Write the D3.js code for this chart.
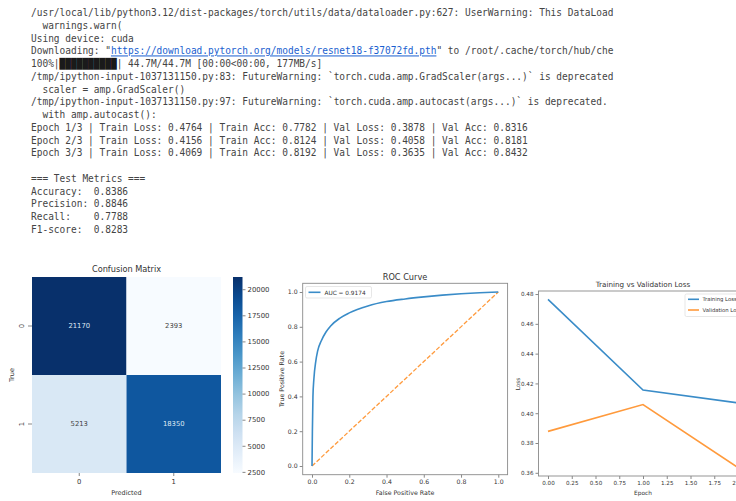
<!DOCTYPE html>
<html>
<head>
<meta charset="utf-8">
<script src="https://cdn.jsdelivr.net/npm/d3@7"></script>
<style>
  html, body { margin: 0; padding: 0; background: #fff; }
  svg { display: block; }
  .mono { font-family: "DejaVu Sans Mono", "Liberation Mono", monospace; font-size: 10px; fill: #444; }
  .plot text { font-family: "DejaVu Sans", sans-serif; fill: #333; }
</style>
</head>
<body>
<svg id="out" width="736" height="501"></svg>
<script>
// ---- training log values ----
const trainLoss = [0.4764, 0.4156, 0.4069];
const trainAcc  = [0.7782, 0.8124, 0.8192];
const valLoss   = [0.3878, 0.4058, 0.3635];
const valAcc    = [0.8316, 0.8181, 0.8432];
const epochs    = [0, 1, 2];

// ---- test metrics ----
const metricNames  = ["Accuracy:  ", "Precision: ", "Recall:    ", "F1-score:  "];
const metricValues = [0.8386, 0.8846, 0.7788, 0.8283];

// ---- confusion matrix (rows: true, cols: predicted) ----
const classLabels = ["0", "1"];
const confusion = [[21170, 2393], [5213, 18350]];
const colorbarTicks = [2500, 5000, 7500, 10000, 12500, 15000, 17500, 20000];

// ---- ROC curve ----
const rocFpr = [0, 0.002, 0.005, 0.01, 0.02, 0.03, 0.05, 0.075, 0.1, 0.15, 0.2, 0.3, 0.4, 0.5, 0.6, 0.7, 0.8, 0.9, 1.0];
const rocTpr = [0, 0.2, 0.4, 0.5, 0.6, 0.66, 0.72, 0.77, 0.805, 0.85, 0.88, 0.92, 0.945, 0.96, 0.972, 0.982, 0.99, 0.996, 1.0];
const aucValue = 0.9174;
const rocTicks = [0, 0.2, 0.4, 0.6, 0.8, 1.0];

// ---- loss plot ticks ----
const epochTicks = [0, 0.25, 0.5, 0.75, 1.0, 1.25, 1.5, 1.75, 2.0];
const lossTicks = [0.36, 0.38, 0.40, 0.42, 0.44, 0.46, 0.48];

const svg = d3.select("#out");
const f4 = d3.format(".4f");

// ================= console output (output cell is 102 columns wide) =================
const bar = "\u2588".repeat(10);
const consoleLines = [
  [{t: "/usr/local/lib/python3.12/dist-packages/torch/utils/data/dataloader.py:627: UserWarning: This DataLoad"}],
  [{t: "  warnings.warn("}],
  [{t: "Using device: cuda"}],
  [{t: "Downloading: \""}, {t: "https://download.pytorch.org/models/resnet18-f37072fd.pth", link: true}, {t: "\" to /root/.cache/torch/hub/che"}],
  [{t: "100%|"}, {t: bar, dark: true}, {t: "| 44.7M/44.7M [00:00<00:00, 177MB/s]"}],
  [{t: "/tmp/ipython-input-1037131150.py:83: FutureWarning: `torch.cuda.amp.GradScaler(args...)` is deprecated"}],
  [{t: "  scaler = amp.GradScaler()"}],
  [{t: "/tmp/ipython-input-1037131150.py:97: FutureWarning: `torch.cuda.amp.autocast(args...)` is deprecated."}],
  [{t: "  with amp.autocast():"}]
];
epochs.forEach((e, i) => {
  consoleLines.push([{t: `Epoch ${i + 1}/3 | Train Loss: ${f4(trainLoss[i])} | Train Acc: ${f4(trainAcc[i])} | Val Loss: ${f4(valLoss[i])} | Val Acc: ${f4(valAcc[i])}`}]);
});
consoleLines.push([{t: ""}]);
consoleLines.push([{t: "=== Test Metrics ==="}]);
metricNames.forEach((n, i) => consoleLines.push([{t: n + f4(metricValues[i])}]));

const charW = 5.71, lineH = 12.75, firstBase = 16.2, textX = 31;
const log = svg.append("g");
consoleLines.forEach((parts, i) => {
  const n = parts.reduce((s, p) => s + p.t.length, 0);
  if (!n) return;
  const txt = log.append("text").attr("class", "mono")
    .attr("x", textX).attr("y", firstBase + i * lineH)
    .attr("textLength", n * charW).attr("lengthAdjust", "spacingAndGlyphs")
    .attr("xml:space", "preserve");
  parts.forEach(p => {
    const ts = txt.append("tspan").text(p.t);
    if (p.link) ts.style("fill", "#1a5fd0").style("text-decoration", "underline");
    if (p.dark) ts.style("fill", "#1a1a1a");
  });
});

// ================= confusion matrix =================
const cm = svg.append("g").attr("class", "plot");
const cmX = d3.scaleBand().domain(classLabels).range([32, 221]);
const cmY = d3.scaleBand().domain(classLabels).range([277, 473]);
const flat = confusion.flat();
const cmMin = d3.min(flat), cmMax = d3.max(flat);
const cmColor = d3.scaleSequential(d3.interpolateBlues).domain([cmMin, cmMax]);

const cells = [];
confusion.forEach((row, r) => row.forEach((v, c) => cells.push({r, c, v})));
cm.selectAll("rect.cell").data(cells).join("rect").attr("class", "cell")
  .attr("x", d => cmX(classLabels[d.c])).attr("y", d => cmY(classLabels[d.r]))
  .attr("width", cmX.bandwidth()).attr("height", cmY.bandwidth())
  .attr("fill", d => cmColor(d.v));
cm.selectAll("text.annot").data(cells).join("text").attr("class", "annot")
  .attr("x", d => cmX(classLabels[d.c]) + cmX.bandwidth() / 2)
  .attr("y", d => cmY(classLabels[d.r]) + cmY.bandwidth() / 2)
  .attr("text-anchor", "middle").attr("dominant-baseline", "central")
  .style("font-size", "6.8px")
  .style("fill", d => (d.v - cmMin) / (cmMax - cmMin) > 0.5 ? "#dfe8f3" : "#444")
  .text(d => d.v);

// heatmap ticks
const cmXAxis = cm.append("g").attr("transform", "translate(0,473)");
classLabels.forEach(l => {
  const x = cmX(l) + cmX.bandwidth() / 2;
  cmXAxis.append("line").attr("x1", x).attr("x2", x).attr("y1", 0).attr("y2", 3).attr("stroke", "#555").attr("stroke-width", 0.7);
  cmXAxis.append("text").attr("x", x).attr("y", 11).attr("text-anchor", "middle").style("font-size", "6.8px").text(l);
});
classLabels.forEach(l => {
  const y = cmY(l) + cmY.bandwidth() / 2;
  cm.append("line").attr("x1", 28).attr("x2", 32).attr("y1", y).attr("y2", y).attr("stroke", "#555").attr("stroke-width", 0.7);
  cm.append("text").attr("transform", `translate(24,${y}) rotate(-90)`).attr("text-anchor", "middle").style("font-size", "6.8px").text(l);
});
cm.append("text").attr("x", 126.5).attr("y", 272).attr("text-anchor", "middle").style("font-size", "8.2px").text("Confusion Matrix");
cm.append("text").attr("x", 126.5).attr("y", 495).attr("text-anchor", "middle").style("font-size", "6.5px").text("Predicted");
cm.append("text").attr("transform", "translate(14,375) rotate(-90)").attr("text-anchor", "middle").style("font-size", "6.5px").text("True");

// colorbar
const cbScale = d3.scaleLinear().domain([cmMin, cmMax]).range([473, 277]);
const defs = svg.append("defs");
const grad = defs.append("linearGradient").attr("id", "cbGrad").attr("x1", 0).attr("y1", 1).attr("x2", 0).attr("y2", 0);
d3.range(0, 1.0001, 0.1).forEach(t => grad.append("stop").attr("offset", t).attr("stop-color", cmColor(cmMin + t * (cmMax - cmMin))));
cm.append("rect").attr("x", 233).attr("y", 277).attr("width", 9.5).attr("height", 196).attr("fill", "url(#cbGrad)");
const cbAxis = d3.axisRight(cbScale).tickValues(colorbarTicks).tickFormat(d3.format("d")).tickSize(3).tickPadding(2);
cm.append("g").attr("transform", "translate(242.5,0)").call(cbAxis)
  .call(g => g.select(".domain").remove())
  .call(g => g.selectAll("line").attr("stroke", "#555").attr("stroke-width", 0.7))
  .call(g => g.selectAll("text").style("font-size", "6.9px").style("font-family", "DejaVu Sans").attr("fill", "#333"));

// ================= ROC curve =================
const roc = svg.append("g").attr("class", "plot");
const rx = d3.scaleLinear().domain([-0.05, 1.05]).range([302.7, 507.6]);
const ry = d3.scaleLinear().domain([-0.05, 1.05]).range([474.7, 283.3]);
function styleAxis(g) {
  g.select(".domain").remove();
  g.selectAll("line").attr("stroke", "#555").attr("stroke-width", 0.7);
  g.selectAll("text").style("font-size", "6.2px").style("font-family", "DejaVu Sans").attr("fill", "#333");
}
roc.append("g").attr("transform", "translate(0,474.7)")
  .call(d3.axisBottom(rx).tickValues(rocTicks).tickFormat(d3.format(".1f")).tickSize(3).tickPadding(2)).call(styleAxis);
roc.append("g").attr("transform", "translate(302.7,0)")
  .call(d3.axisLeft(ry).tickValues(rocTicks).tickFormat(d3.format(".1f")).tickSize(3).tickPadding(2)).call(styleAxis);
roc.append("line").attr("x1", rx(0)).attr("y1", ry(0)).attr("x2", rx(1)).attr("y2", ry(1))
  .attr("stroke", "#ff9a3c").attr("stroke-width", 1.3).attr("stroke-dasharray", "4.4,1.9");
const rocPts = rocFpr.map((x, i) => [x, rocTpr[i]]);
roc.append("path").datum(rocPts)
  .attr("d", d3.line().x(d => rx(d[0])).y(d => ry(d[1])).curve(d3.curveMonotoneX))
  .attr("fill", "none").attr("stroke", "#3a8cc8").attr("stroke-width", 1.6);
roc.append("rect").attr("x", 302.7).attr("y", 283.3).attr("width", 204.9).attr("height", 191.4)
  .attr("fill", "none").attr("stroke", "#8a8a8a").attr("stroke-width", 0.9);
// legend
roc.append("rect").attr("x", 305.5).attr("y", 286.5).attr("width", 66).attr("height", 11.5).attr("rx", 1.5)
  .attr("fill", "#fff").attr("stroke", "#ddd").attr("stroke-width", 0.7);
roc.append("line").attr("x1", 308.5).attr("x2", 320.5).attr("y1", 292.3).attr("y2", 292.3).attr("stroke", "#3a8cc8").attr("stroke-width", 1.6);
roc.append("text").attr("x", 324.5).attr("y", 294.5).style("font-size", "5.8px").text(`AUC = ${f4(aucValue)}`);
roc.append("text").attr("x", 405).attr("y", 279.5).attr("text-anchor", "middle").style("font-size", "8.2px").text("ROC Curve");
roc.append("text").attr("x", 405).attr("y", 495).attr("text-anchor", "middle").style("font-size", "6.3px").text("False Positive Rate");
roc.append("text").attr("transform", "translate(284,379) rotate(-90)").attr("text-anchor", "middle").style("font-size", "6.3px").text("True Positive Rate");

// ================= training vs validation loss =================
const lp = svg.append("g").attr("class", "plot");
const allLoss = trainLoss.concat(valLoss);
const [lMin, lMax] = d3.extent(allLoss);
const lPad = (lMax - lMin) * 0.05;
const lx = d3.scaleLinear().domain([-0.1, 2.1]).range([538.5, 747.5]);
const ly = d3.scaleLinear().domain([lMin - lPad, lMax + lPad]).range([476, 291]);
lp.append("g").attr("transform", "translate(0,476)")
  .call(d3.axisBottom(lx).tickValues(epochTicks).tickFormat(d3.format(".2f")).tickSize(3).tickPadding(2)).call(styleAxis)
  .call(g => g.selectAll("text").style("font-size", "5.6px"));
lp.append("g").attr("transform", "translate(538.5,0)")
  .call(d3.axisLeft(ly).tickValues(lossTicks).tickFormat(d3.format(".2f")).tickSize(3).tickPadding(2)).call(styleAxis)
  .call(g => g.selectAll("text").style("font-size", "5.6px"));
const lossLine = d3.line().x((d, i) => lx(epochs[i])).y(d => ly(d));
lp.append("path").datum(trainLoss).attr("d", lossLine).attr("fill", "none").attr("stroke", "#3a8cc8").attr("stroke-width", 1.6);
lp.append("path").datum(valLoss).attr("d", lossLine).attr("fill", "none").attr("stroke", "#ff9a3c").attr("stroke-width", 1.6);
lp.append("rect").attr("x", 538.5).attr("y", 291).attr("width", 209).attr("height", 185)
  .attr("fill", "none").attr("stroke", "#8a8a8a").attr("stroke-width", 0.9);
// legend
lp.append("rect").attr("x", 685).attr("y", 294).attr("width", 70).attr("height", 22.5).attr("rx", 1.5)
  .attr("fill", "#fff").attr("stroke", "#ddd").attr("stroke-width", 0.7);
const legendItems = [{name: "Training Loss", color: "#3a8cc8", y: 299.3}, {name: "Validation Loss", color: "#ff9a3c", y: 310}];
legendItems.forEach(it => {
  lp.append("line").attr("x1", 688).attr("x2", 699).attr("y1", it.y).attr("y2", it.y).attr("stroke", it.color).attr("stroke-width", 1.6);
  lp.append("text").attr("x", 702.5).attr("y", it.y + 2).style("font-size", "5.3px").text(it.name);
});
lp.append("text").attr("x", 643).attr("y", 286.5).attr("text-anchor", "middle").style("font-size", "7.2px").text("Training vs Validation Loss");
lp.append("text").attr("x", 643).attr("y", 494.5).attr("text-anchor", "middle").style("font-size", "5.8px").text("Epoch");
lp.append("text").attr("transform", "translate(519.5,384) rotate(-90)").attr("text-anchor", "middle").style("font-size", "5.8px").text("Loss");
</script>
</body>
</html>
